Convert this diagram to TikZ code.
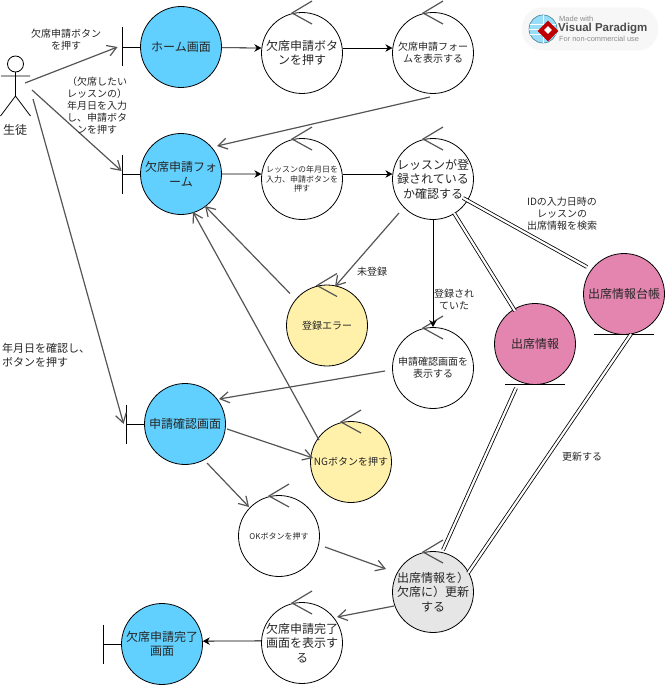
\documentclass[tikz,border=0pt]{standalone}
\usepackage{fontspec}
\setmainfont{Noto Sans CJK JP}
\newfontfamily\logofont{Liberation Sans}
\usetikzlibrary{arrows.meta,shapes.geometric}
\definecolor{bluefill}{RGB}{97,208,255}
\definecolor{yellowfill}{RGB}{255,240,170}
\definecolor{pinkfill}{RGB}{227,133,175}
\definecolor{greyfill}{RGB}{230,230,230}
\definecolor{wireline}{RGB}{85,85,85}
\begin{document}
\begin{tikzpicture}[x=1pt,y=-1pt]
  \tikzset{
    big/.style={font=\fontsize{12}{14.5}\selectfont},
    mid/.style={font=\fontsize{10}{12}\selectfont},
    tiny/.style={font=\fontsize{8}{9.3}\selectfont},
    ball/.style={circle,draw,line width=0.8pt,minimum size=81pt,inner sep=-9pt,align=center,text=black!85},
    note/.style={mid,align=center,inner sep=0pt,text=black!85},
    open/.style={draw=wireline,line width=1.2pt,-{Straight Barb[length=9pt,width=11pt]}},
    solid/.style={line width=0.8pt,-{Stealth[length=7pt,width=7.5pt]}},
    twin/.style={double,double distance=2.2pt,line width=0.8pt}
  }
  \useasboundingbox (0,0) rectangle (665,685);
  \node[ball,big,fill=bluefill] (home) at (181,47) {ホーム画面};
  \node[ball,big] (button) at (302,53) {欠席申請ボタ\\ンを押す};
  \node[ball,mid] (showform) at (433,53) {欠席申請フォー\\ムを表示する};
  \node[ball,big,fill=bluefill] (form) at (181,174) {欠席申請フォ\\ーム};
  \node[ball,tiny] (input) at (302,179) {レッスンの年月日を\\入力、申請ボタンを\\押す};
  \node[ball,big] (check) at (433,179) {レッスンが登\\録されている\\か確認する};
  \node[ball,mid,fill=yellowfill] (error) at (327,325.5) {登録エラー};
  \node[ball,mid] (confshow) at (433,368) {申請確認画面を\\表示する};
  \node[ball,big,fill=pinkfill] (attend) at (535,344) {出席情報};
  \node[ball,big,fill=pinkfill] (ledger) at (624,294) {出席情報台帳};
  \node[ball,big,fill=bluefill] (confirm) at (185,424) {申請確認画面};
  \node[ball,mid,fill=yellowfill] (ng) at (351,462) {NGボタンを押す};
  \node[ball,tiny] (ok) at (279,536) {OKボタンを押す};
  \node[ball,big,fill=greyfill] (update) at (433,592) {出席情報を）\\欠席に）更新\\する};
  \node[ball,big] (finish) at (302,643) {欠席申請完了\\画面を表示す\\る};
  \node[ball,big,fill=bluefill] (complete) at (162,644) {欠席申請完了\\画面};
  \foreach \n in {button,showform,input,check,error,confshow,ng,ok,update,finish}
    \draw[wireline,line width=1.2pt] ([shift={(10,-52)}]\n.center) -- ([shift={(-10,-40)}]\n.center) -- ([shift={(10,-29)}]\n.center);
  \foreach \n in {home,form,confirm,complete} {
    \draw[line width=0.8pt] (\n.west) -- ++(-17.5,0) coordinate (\n bar) ++(0,-19.5) -- ++(0,39);
  }
  \foreach \n in {attend,ledger}
    \draw[line width=0.8pt] ([shift={(-30,40)}]\n.center) -- ([shift={(30,40)}]\n.center);
  \coordinate (armhigh) at (25,83);
  \coordinate (armmid) at (32,90);
  \coordinate (armlow) at (33,99);
  \node[big,inner sep=0pt,text=black!85] (student) at (15,130) {生徒};
  \draw[line width=0.8pt] (15.5,64) circle (8) (15.5,72) -- (15.5,96) -- (0.5,116) (15.5,96) -- (30.5,116) (1,76) -- (30,76);
  \draw[open] (armhigh) -- ([xshift=-5pt]homebar);
  \draw[open] (armmid) -- ([shift={(-1,-3)}]formbar);
  \draw[open] (armlow) -- ([xshift=-3pt]confirmbar);
  \draw[solid] (home.-1) -- (button.173);
  \draw[solid] (button.7) -- (showform.173);
  \draw[solid] (form.east) -- (input.173);
  \draw[solid] (input.7) -- (check.173);
  \draw[solid] (check.south) -- (confshow.north);
  \draw[solid] (finish.177) -- (complete.4);
  \draw[open] ([shift={(-3,44)}]showform.center) -- ([shift={(36,-28)}]form.center);
  \draw[open] ([shift={(-34,34)}]check.center) -- ([shift={(8,-39)}]error.center);
  \draw[open] ([shift={(-37,-32)}]error.center) -- ([shift={(24,32)}]form.center);
  \draw[open] ([shift={(-48,3)}]confshow.center) -- ([shift={(34,-25)}]confirm.center);
  \draw[open] ([shift={(42,5)}]confirm.center) -- ([shift={(-38,-4)}]ng.center);
  \draw[open] ([shift={(-32,-22)}]ng.center) -- ([shift={(12,38)}]form.center);
  \draw[open] ([shift={(22,39)}]confirm.center) -- ([shift={(-30,-29)}]ok.center);
  \draw[open] ([shift={(46,11)}]ok.center) -- ([shift={(-47,-23)}]update.center);
  \draw[open] ([shift={(-39,14)}]update.center) -- ([shift={(35,-26)}]finish.center);
  \draw[twin] ([shift={(21,34)}]check.center) -- ([shift={(-20,-33)}]attend.center);
  \draw[twin] ([shift={(30,19)}]check.center) -- ([shift={(-37,-27)}]ledger.center);
  \draw[twin] ([shift={(-19,44)}]attend.center) -- ([shift={(10,-42)}]update.center);
  \draw[twin] ([shift={(7,40)}]ledger.center) -- ([shift={(35,-19)}]update.center);
  \node[note] (nbutton) at (66,40) {欠席申請ボタン\\を押す};
  \node[note] (ndate) at (97,106) {（欠席したい\\レッスンの）\\年月日を入力\\し、申請ボタ\\ンを押す};
  \node[note,align=left,font=\fontsize{11}{14}\selectfont,anchor=west] (nconfirm) at (2,355) {年月日を確認し、\\ボタンを押す};
  \node[note] (nnone) at (372,272) {未登録};
  \node[note] (nfound) at (454,299) {登録され\\ていた};
  \node[note] (nsearch) at (562,214) {IDの入力日時の\\レッスンの\\出席情報を検索};
  \node[note] (nrenew) at (582,457) {更新する};
  \node[fill=black!3,rounded corners=20pt,minimum width=136pt,minimum height=43pt] (logo) at (590,29) {};
  \node[circle,fill=cyan!40,draw=cyan!55!black,line width=0.6pt,minimum size=28pt,inner sep=0pt] (globe) at (543,29) {};
  \draw[white,line width=0.6pt] (globe.north) -- (globe.south) (globe.west) -- (globe.east) (globe.160) -- (globe.20) (globe.200) -- (globe.-20);
  \node[diamond,fill=red!75!black,minimum size=21pt,inner sep=0pt] (mark) at (548,31) {};
  \node[diamond,fill=white,minimum size=8pt,inner sep=0pt] (markhole) at (548,30) {};
  \node[font=\logofont\fontsize{7.5}{7.5}\selectfont,text=black!45,anchor=west,inner sep=0pt] (made) at (559,19) {Made with};
  \node[font=\logofont\bfseries\fontsize{11.5}{11.5}\selectfont,text=black!70,anchor=west,inner sep=0pt] (vp) at (558,29) {Visual Paradigm};
  \node[font=\logofont\fontsize{7.4}{7.4}\selectfont,text=black!45,anchor=west,inner sep=0pt] (use) at (559,39) {For non-commercial use};
\end{tikzpicture}
\end{document}
